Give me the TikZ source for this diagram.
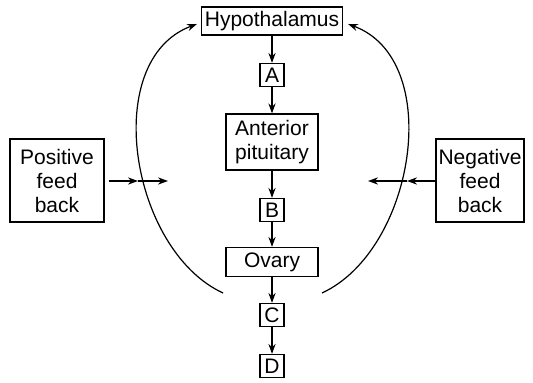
\documentclass[tikz,border=0pt]{standalone}
\usepackage{fontspec}
\setmainfont{Liberation Sans}
\usetikzlibrary{arrows.meta}

\begin{document}
\begin{tikzpicture}[x=0.5pt,y=-0.5pt,semithick,
      >={Stealth[length=5pt,width=3.6pt]},
      every node/.style={font=\fontsize{10.5}{12}\selectfont},
      box/.style={draw,semithick,inner sep=0pt,align=center},
      letter/.style={box,minimum width=12pt,minimum height=11.5pt}]
  \useasboundingbox (0,0) rectangle (533,383);
  % main chain
  \node[box,minimum width=70.5pt,minimum height=14pt](hyp) at (272,21){Hypothalamus};
  \node[letter](A) at (272,75){A};
  \node[box,minimum width=46pt,minimum height=28pt](ant) at (272,142){Anterior\\pituitary};
  \node[letter](B) at (272,210){B};
  \node[box,minimum width=46pt,minimum height=14.5pt](ova) at (272,262){Ovary};
  \node[letter](C) at (272,315){C};
  \node[letter](D) at (272,366){D};
  \draw[->](hyp)--(A);
  \draw[->](A)--(ant);
  \draw[->](ant)--(B);
  \draw[->](B)--(ova);
  \draw[->](ova)--(C);
  \draw[->](C)--(D);
  % feed back boxes
  \node[box,minimum width=47pt,minimum height=41.5pt](pos) at (57,180.5){Positive\\feed\\back};
  \node[box,minimum width=44pt,minimum height=41.5pt](neg) at (480,180.5){Negative\\feed\\back};
  \coordinate(pm) at (138,181);
  \coordinate(pe) at (168,181);
  \coordinate(nm) at (407,181);
  \coordinate(ne) at (368,181);
  \draw[->,shorten <=2pt](pos.east|-pm)--(pm);
  \draw[->](pm)--(pe);
  \draw[->](neg.west|-nm)--(nm);
  \draw[->](nm)--(ne);
  % loops back to the hypothalamus
  \coordinate(l0) at (223,293);
  \coordinate(l1) at (197,24);
  \coordinate(r0) at (322,293);
  \coordinate(r1) at (348,24);
  \draw[->](l0)..controls(130,250)and(100,60)..(l1);
  \draw[->](r0)..controls(415,250)and(445,60)..(r1);
\end{tikzpicture}
\end{document}
